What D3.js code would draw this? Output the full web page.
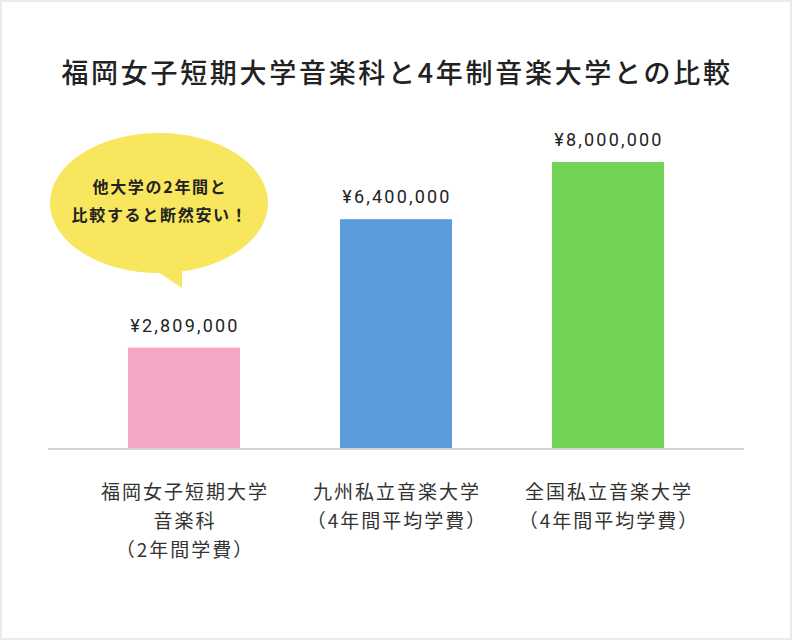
<!DOCTYPE html>
<html><head><meta charset="utf-8">
<script src="https://cdn.jsdelivr.net/npm/d3@7"></script>
<style>body{margin:0;background:#fff;}svg{display:block;font-family:"Noto Sans CJK JP","Noto Sans",sans-serif;}</style>
</head><body>
<svg id="c" width="792" height="640"></svg>
<script>
const title = "福岡女子短期大学音楽科と4年制音楽大学との比較";
const categories = [
  ["福岡女子短期大学", "音楽科", "（2年間学費）"],
  ["九州私立音楽大学", "（4年間平均学費）"],
  ["全国私立音楽大学", "（4年間平均学費）"]
];
const values = [2809000, 6400000, 8000000];
const valueLabels = ["¥2,809,000", "¥6,400,000", "¥8,000,000"];
const colors = ["#f5a5c6", "#5a9bdc", "#72d354"];
const bubbleLines = ["他大学の2年間と", "比較すると断然安い！"];

const svg = d3.select("#c");
svg.append("rect").attr("x",1).attr("y",1).attr("width",790).attr("height",638)
  .attr("fill","#fff").attr("stroke","#ebebeb").attr("stroke-width",2);

svg.append("text").attr("x",397).attr("y",83).attr("text-anchor","middle")
  .attr("font-size",27).attr("font-weight",500).attr("fill","#222").attr("letter-spacing",2.7).text(title);

const x = d3.scaleBand().domain(d3.range(categories.length)).range([78,714]).paddingInner(0.4717).paddingOuter(0.2358);
const y = d3.scaleLinear().domain([0,8000000]).range([448,162]);

svg.selectAll("rect.bar").data(values).join("rect").attr("class","bar")
  .attr("x",(d,i)=>x(i)).attr("y",d=>y(d)).attr("width",x.bandwidth()).attr("height",d=>y(0)-y(d))
  .attr("fill",(d,i)=>colors[i]);

svg.append("line").attr("x1",48).attr("x2",744).attr("y1",449).attr("y2",449)
  .attr("stroke","#d5d5d5").attr("stroke-width",2);

svg.selectAll("text.val").data(values).join("text").attr("class","val")
  .attr("x",(d,i)=>x(i)+x.bandwidth()/2+1).attr("y",d=>y(d)-16)
  .attr("text-anchor","middle").attr("font-size",18).attr("fill","#222").attr("letter-spacing",2.2)
  .attr("font-family","Roboto, 'Noto Sans', sans-serif")
  .text((d,i)=>valueLabels[i]);

categories.forEach((lines,i)=>{
  const t = svg.append("text").attr("text-anchor","middle").attr("font-size",19).attr("fill","#333").attr("letter-spacing",2);
  lines.forEach((l,j)=>{
    t.append("tspan").attr("x",x(i)+x.bandwidth()/2+1).attr("y",499+j*29).text(l);
  });
});

// speech bubble
const g = svg.append("g");
g.append("ellipse").attr("cx",159).attr("cy",203).attr("rx",109).attr("ry",70).attr("fill","#f7e65e");
g.append("path").attr("d","M155,270 L182,288 L182,268 Z").attr("fill","#f7e65e");
bubbleLines.forEach((l,j)=>{
  g.append("text").attr("x",160).attr("y",193+j*28).attr("text-anchor","middle")
    .attr("font-size",16).attr("font-weight",700).attr("fill","#222").attr("letter-spacing",1.7).text(l);
});
</script>
</body></html>
